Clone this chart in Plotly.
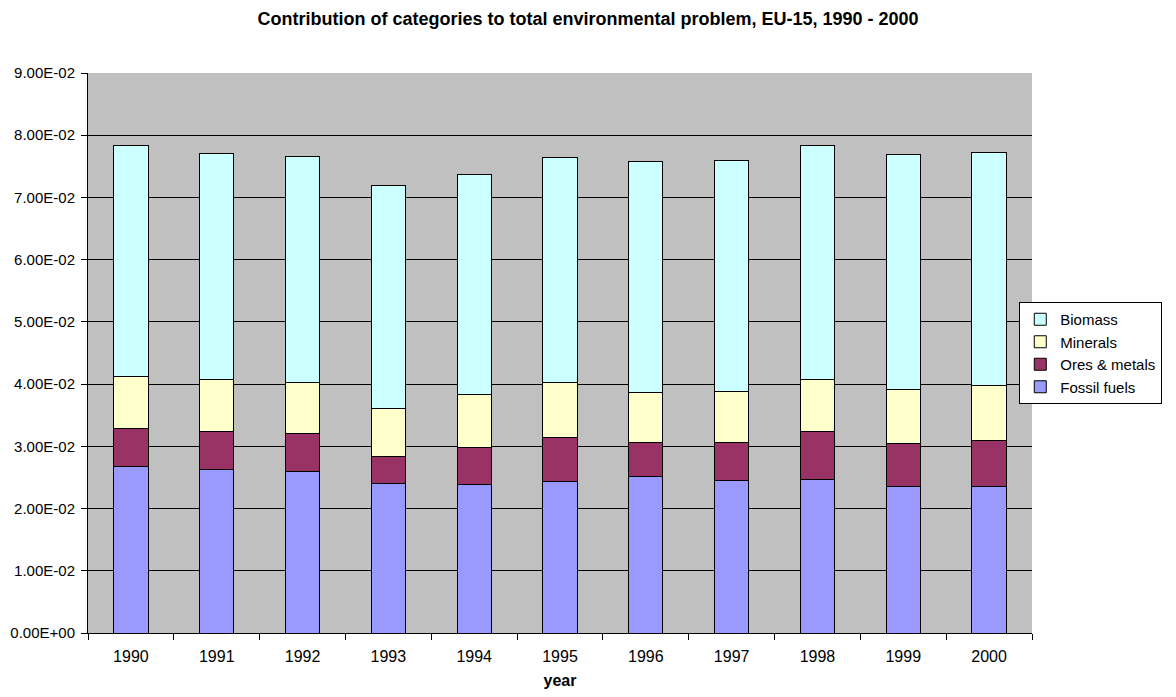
import plotly.graph_objects as go

# ── Data ──
YEARS = ["1990", "1991", "1992", "1993", "1994", "1995", "1996", "1997", "1998", "1999", "2000"]
FOSSIL = [0.0267, 0.0263, 0.0260, 0.0240, 0.0238, 0.0243, 0.0251, 0.0245, 0.0247, 0.0235, 0.0235]
ORES = [0.0061, 0.0061, 0.0061, 0.0043, 0.0060, 0.0072, 0.0055, 0.0061, 0.0077, 0.0070, 0.0075]
MINERALS = [0.0084, 0.0083, 0.0082, 0.0078, 0.0085, 0.0088, 0.0081, 0.0082, 0.0084, 0.0087, 0.0088]
BIOMASS = [0.0371, 0.0364, 0.0363, 0.0358, 0.0354, 0.0361, 0.0370, 0.0371, 0.0375, 0.0377, 0.0375]

Y_TICKS = [0.00, 0.01, 0.02, 0.03, 0.04, 0.05, 0.06, 0.07, 0.08, 0.09]
Y_TICK_TEXT = ["0.00E+00", "1.00E-02", "2.00E-02", "3.00E-02", "4.00E-02",
               "5.00E-02", "6.00E-02", "7.00E-02", "8.00E-02", "9.00E-02"]

FONT = "Liberation Sans, Arial, sans-serif"

series = [
    ("Fossil fuels", FOSSIL, "#9999ff"),
    ("Ores & metals", ORES, "#993366"),
    ("Minerals", MINERALS, "#ffffcc"),
    ("Biomass", BIOMASS, "#ccffff"),
]

fig = go.Figure()
for name, vals, color in series:
    fig.add_trace(go.Bar(
        x=YEARS, y=vals,
        name=name,
        marker=dict(color=color, line=dict(color="black", width=1)),
    ))

# page body has an 8px margin, so the figure is a bit smaller than the window
fig.update_layout(
    width=1160, height=681,
    barmode="stack",
    bargap=0.6,
    paper_bgcolor="white",
    plot_bgcolor="#c0c0c0",
    font=dict(family=FONT, size=16, color="black"),
    title=dict(
        text="<b>Contribution of categories to total environmental problem, EU-15, 1990 - 2000</b>",
        x=0.5, xanchor="center", y=0.984, yanchor="middle",
        font=dict(size=18, family=FONT, color="black"),
    ),
    legend=dict(
        traceorder="reversed",
        x=1.138, xanchor="right",
        y=0.5, yanchor="middle",
        bordercolor="black", borderwidth=1,
        bgcolor="white",
        font=dict(size=15, family=FONT),
        itemwidth=30,
    ),
    margin=dict(l=80, r=136, t=65, b=56, autoexpand=False),
)

fig.update_xaxes(
    type="category",
    automargin=False,
    showline=True, linecolor="black", linewidth=1,
    ticks="outside", tickson="boundaries", ticklen=6, tickcolor="black",
    ticklabelstandoff=9,
    showgrid=False,
    tickfont=dict(size=16),
    title=dict(text="<b>year</b>", font=dict(size=16), standoff=22),
)
fig.update_yaxes(
    range=[0, 0.09],
    automargin=False,
    tickvals=Y_TICKS, ticktext=Y_TICK_TEXT,
    showline=True, linecolor="black", linewidth=1,
    ticks="outside", ticklen=6, tickcolor="black",
    ticklabelstandoff=3,
    showgrid=True, gridcolor="black", gridwidth=1,
    zeroline=False,
    tickfont=dict(size=15),
)

fig.write_html("out.html")
